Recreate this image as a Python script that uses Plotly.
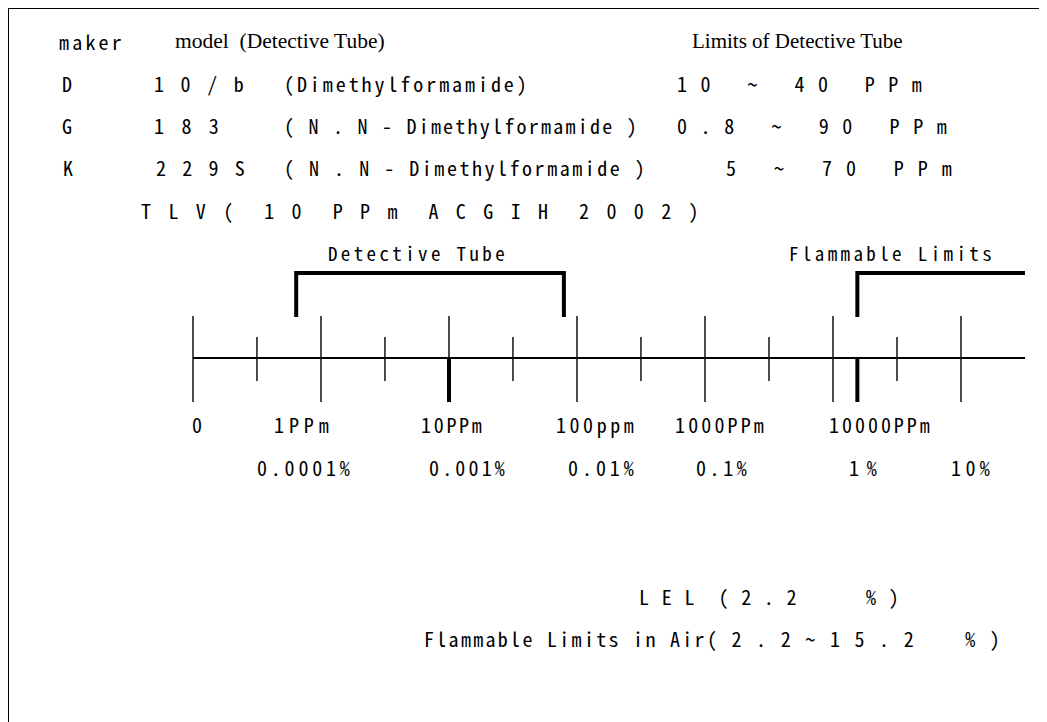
import plotly.graph_objects as go

W, H = 1047, 722

# ---------------- data ----------------
major_ticks_ppm = [0.1, 1, 10, 100, 1000, 10000, 100000]
minor_ticks_ppm = [0.316, 3.16, 31.6, 316, 3162, 31623]
axis_span_ppm = [0.1, 316228]
tlv_ppm = [10]
lel_mark_ppm = [15500]
detective_range_ppm = [0.64, 79]
flammable_range_ppm = [15500, 316228]

ppm_labels = ["0", "1PPm", "10PPm", "100ppm", "1000PPm", "10000PPm"]
pct_labels = ["0.0001%", "0.001%", "0.01%", "0.1%", "1%", "10%"]

makers = ["D", "G", "K"]
models = ["1 0 / b", "1 8 3", "2 2 9 S"]
substances = ["(Dimethylformamide)",
              "( N . N - Dimethylformamide )",
              "( N . N - Dimethylformamide )"]
tube_limits = ["1 0   ~   4 0   P P m",
               "0 . 8   ~   9 0   P P m",
               "5   ~   7 0   P P m"]
tlv_text = "T L V (  1 0  P P m  A C G I H  2 0 0 2 )"
lel_text = "L E L  ( 2 . 2      % )"
flam_air_text = "Flammable Limits in Air( 2 . 2 ~ 1 5 . 2    % )"

# ---------------- layout helpers ----------------
MONO = "Noto Sans Mono CJK JP, Noto Sans Mono CJK SC, Liberation Mono, monospace"
ADV = 0.5          # advance width (em) of half-width latin in the CJK mono font
SERIF = "Liberation Serif, Times New Roman, serif"
OFF = 8            # page body margin in the screenshot

# vertical positions (screen px from top)
AXIS_Y = 358
MAJ_TOP, MAJ_BOT = 316, 402
MIN_TOP, MIN_BOT = 337, 381
BR_TOP, BR_BOT = 273, 317


def ys(v):
    return v - OFF


def mono_text(s, x0, x1, y, size=20):
    n = len(s)
    adv = ADV * size
    sb = 0.07 * size
    ls = (x1 - x0 + 2 * sb - n * adv) / (n - 1) if n > 1 else 0
    txt = s.replace(" ", "\u00a0")
    return dict(text=f'<span style="letter-spacing:{ls:.2f}px">{txt}</span>',
                x=(x0 - OFF - sb) / W, y=1 - (y - OFF) / H,
                xref="paper", yref="paper",
                xanchor="left", yanchor="middle", showarrow=False,
                borderwidth=0, borderpad=0,
                font=dict(family=MONO, size=size, color="black"))


def serif_text(s, x0, y, size=21, ls=0):
    return dict(text=f'<span style="letter-spacing:{ls}px">{s}</span>',
                x=(x0 - OFF) / W, y=1 - (y - OFF) / H,
                xref="paper", yref="paper",
                xanchor="left", yanchor="middle", showarrow=False,
                borderwidth=0, borderpad=0,
                font=dict(family=SERIF, size=size, color="black"))


fig = go.Figure()

# main axis line
fig.add_trace(go.Scatter(x=axis_span_ppm, y=[ys(AXIS_Y)] * 2, mode="lines",
                         line=dict(color="black", width=2.2), hoverinfo="skip"))
# major ticks
for v in major_ticks_ppm:
    fig.add_trace(go.Scatter(x=[v, v], y=[ys(MAJ_TOP), ys(MAJ_BOT)], mode="lines",
                             line=dict(color="black", width=1.4), hoverinfo="skip"))
# minor ticks
for v in minor_ticks_ppm:
    fig.add_trace(go.Scatter(x=[v, v], y=[ys(MIN_TOP), ys(MIN_BOT)], mode="lines",
                             line=dict(color="black", width=1.4), hoverinfo="skip"))
# TLV and LEL thick marks
for v in tlv_ppm + lel_mark_ppm:
    fig.add_trace(go.Scatter(x=[v, v], y=[ys(AXIS_Y), ys(MAJ_BOT)], mode="lines",
                             line=dict(color="black", width=4), hoverinfo="skip"))
# detective tube bracket
d0, d1 = detective_range_ppm
fig.add_trace(go.Scatter(x=[d0, d0, d1, d1],
                         y=[ys(BR_BOT), ys(BR_TOP), ys(BR_TOP), ys(BR_BOT)],
                         mode="lines", line=dict(color="black", width=4),
                         hoverinfo="skip"))
# flammable limits bracket
f0, f1 = flammable_range_ppm
fig.add_trace(go.Scatter(x=[f0, f0, f1], y=[ys(BR_BOT), ys(BR_TOP), ys(BR_TOP)],
                         mode="lines", line=dict(color="black", width=4),
                         hoverinfo="skip"))

ann = []
# header row
ann.append(mono_text("maker", 60, 120, 41))
ann.append(serif_text("model  (Detective Tube)", 175, 41, size=21.5))
ann.append(serif_text("Limits of Detective Tube", 692, 41))

row_y = [83, 125, 167]
maker_x = [(63, 75), (63, 76), (64, 76)]
model_x = [(155, 242), (155, 217), (157, 243)]
subst_x = [(285, 525), (285, 635), (285, 643)]
limit_x = [(678, 920), (678, 945), (727, 950)]
for i in range(3):
    ann.append(mono_text(makers[i], *maker_x[i], row_y[i]))
    ann.append(mono_text(models[i], *model_x[i], row_y[i]))
    ann.append(mono_text(substances[i], *subst_x[i], row_y[i]))
    ann.append(mono_text(tube_limits[i], *limit_x[i], row_y[i]))

ann.append(mono_text(tlv_text, 142, 697, 210))

# bracket labels
ann.append(mono_text("Detective Tube", 329, 503, 253, size=19))
ann.append(mono_text("Flammable Limits", 790, 990, 253, size=19))

# scale labels
ppm_x = [(193, 203), (275, 327), (422, 480), (557, 632), (676, 762), (830, 928)]
pct_x = [(258, 348), (430, 503), (569, 632), (697, 745), (850, 875), (952, 988)]
for lab, (a, b) in zip(ppm_labels, ppm_x):
    ann.append(mono_text(lab, a, b, 424, size=20))
for lab, (a, b) in zip(pct_labels, pct_x):
    ann.append(mono_text(lab, a, b, 467, size=20))

# bottom notes
ann.append(mono_text(lel_text, 640, 897, 596, size=20))
ann.append(mono_text(flam_air_text, 425, 998, 638, size=20))

# frame (right/bottom edges fall outside the window)
shapes = [dict(type="rect", xref="paper", yref="paper",
               x0=0, y0=1, x1=1.05, y1=-0.05,
               line=dict(color="black", width=2), fillcolor="rgba(0,0,0,0)")]

lo = -1 - (193 - OFF) / 128
hi = lo + W / 128
fig.update_layout(
    width=W, height=H, margin=dict(l=0, r=0, t=0, b=0),
    paper_bgcolor="white", plot_bgcolor="white", showlegend=False,
    xaxis=dict(type="log", range=[lo, hi], visible=False, domain=[0, 1]),
    yaxis=dict(range=[H, 0], visible=False, domain=[0, 1]),
    annotations=ann, shapes=shapes,
)

fig.write_html("out.html")
